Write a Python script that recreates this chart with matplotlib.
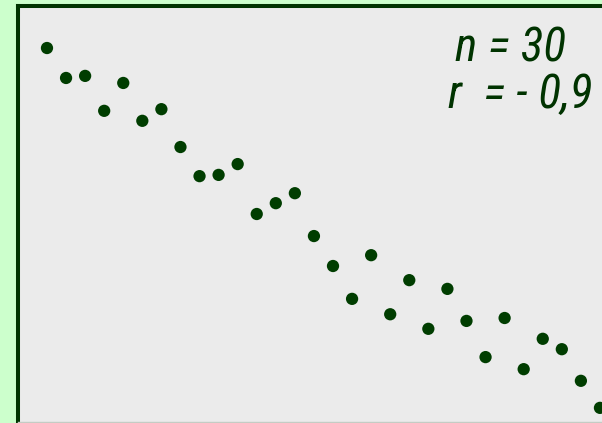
"""Scatter: n = 30, r = -0,9 (strong negative correlation)."""
import matplotlib
matplotlib.use("Agg")
import matplotlib.pyplot as plt
from matplotlib import font_manager as fm

# observation index and measured value (0-100 scale)
x_vals = list(range(1, 31))
y_vals = [89.9, 82.7, 83.2, 74.8, 81.5, 72.4, 75.2, 66.1, 59.1, 59.4,
          62.0, 50.0, 52.6, 55.0, 44.7, 37.5, 29.6, 40.1, 25.9, 34.1,
          22.4, 32.0, 24.3, 15.6, 25.0, 12.7, 20.0, 17.5, 9.9, 3.4]
label_n = "n = 30"
label_r = "r  = - 0,9"

BG = "#ccffcc"
PANEL = "#ebebeb"
DARK = "#003300"
DOT = "#003d00"

# narrow italic face if there is one, else plain sans
faces = {(f.name, f.stretch) for f in fm.fontManager.ttflist}
names = {n for n, _ in faces}
font_kw = {"family": ["Liberation Sans", "DejaVu Sans"]}
for fam in ("Liberation Sans Narrow", "Roboto Condensed", "Open Sans Condensed"):
    if fam in names:
        font_kw = {"family": [fam, "DejaVu Sans"]}
        break
else:
    if ("DejaVu Sans", "condensed") in faces or ("DejaVu Sans", 500) in faces:
        font_kw = {"family": ["DejaVu Sans"], "stretch": "condensed"}

W, H = 602, 423
fig = plt.figure(figsize=(W / 100, H / 100), dpi=100, facecolor=BG)
# panel runs past the right edge of the picture
ax = fig.add_axes([18 / W, 1 / H, 622 / W, 416 / H], facecolor=PANEL)

ax.scatter(x_vals, y_vals, s=78, color=DOT, edgecolors="none", zorder=3)
ax.set_xlim(-0.52, 32.1)
ax.set_ylim(0, 100)
ax.set_xticks([]); ax.set_yticks([])
for side in ("left", "top"):
    ax.spines[side].set_color(DARK); ax.spines[side].set_linewidth(2.9)
ax.spines["bottom"].set_color("#c4ccc4"); ax.spines["bottom"].set_linewidth(1)
ax.spines["right"].set_visible(False)

t1 = fig.text(455 / W, 1 - 62 / H, label_n, style="italic", fontsize=32,
              color=DARK, va="baseline", ha="left", **font_kw)
t2 = fig.text(448 / W, 1 - 108 / H, label_r, style="italic", fontsize=32,
              color=DARK, va="baseline", ha="left", **font_kw)
# size the label so "n = 30" is about as wide as in the original
fig.canvas.draw()
w = t1.get_window_extent().width
fs = min(34, 32 * 118 / w)
t1.set_fontsize(fs); t2.set_fontsize(fs)

fig.savefig("out.png", dpi=100, facecolor=BG)
